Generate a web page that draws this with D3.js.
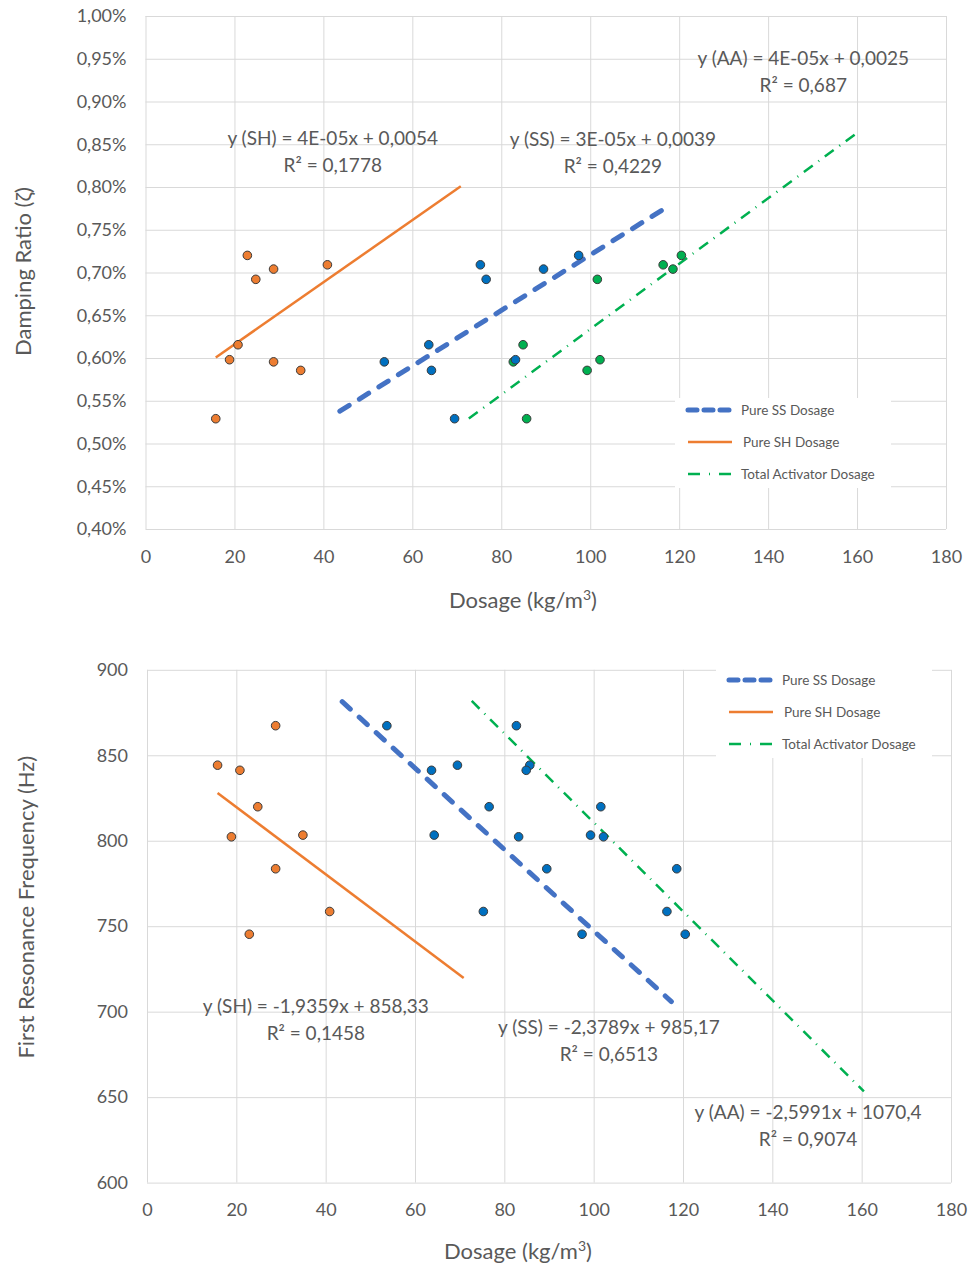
<!DOCTYPE html>
<html>
<head>
<meta charset="utf-8">
<script src="https://cdn.jsdelivr.net/npm/d3@7"></script>
<style>
  body { margin: 0; background: #fff; }
  text { font-family: Lato, "Open Sans", sans-serif; fill: #595959; }
</style>
</head>
<body>
<script>
// sample order is the same in every array (one sample = one mix)
var shDosage = [15.8, 18.9, 20.8, 22.9, 24.8, 28.8, 28.8, 34.9, 40.9];
var ssDosage = [69.5, 83.2, 63.7, 97.4, 76.6, 89.5, 53.7, 64.3, 75.3];
var aaDosage = [85.7, 102.2, 84.9, 120.5, 101.6, 118.6, 82.7, 99.3, 116.4];
var dampingRatio = [0.529, 0.598, 0.6155, 0.720, 0.692, 0.704, 0.5955, 0.5855, 0.709]; // in %
var frequency = [844.2, 802.3, 841.2, 745.3, 819.9, 783.6, 867.3, 803.3, 758.6];       // Hz

// order: SH, SS, AA
var seriesNames = ["Pure SH Dosage", "Pure SS Dosage", "Total Activator Dosage"];
var xTicks = [0, 20, 40, 60, 80, 100, 120, 140, 160, 180];
var dampTicks = [0.40, 0.45, 0.50, 0.55, 0.60, 0.65, 0.70, 0.75, 0.80, 0.85, 0.90, 0.95, 1.00];
var freqTicks = [600, 650, 700, 750, 800, 850, 900];

// trendline forecast (backward, forward) in kg/m3, order SH, SS, AA
var trendBackward = [0, 10, 10];
var trendForward = [30, 20, 40];

var dampEquations = [
  ["y (SH) = 4E-05x + 0,0054", "R² = 0,1778"],
  ["y (SS) = 3E-05x + 0,0039", "R² = 0,4229"],
  ["y (AA) = 4E-05x + 0,0025", "R² = 0,687"]
];
var freqEquations = [
  ["y (SH) = -1,9359x + 858,33", "R² = 0,1458"],
  ["y (SS) = -2,3789x + 985,17", "R² = 0,6513"],
  ["y (AA) = -2,5991x + 1070,4", "R² = 0,9074"]
];

var colors = {sh: "#ED7D31", ssLine: "#4472C4", ssDot: "#0070C0", aa: "#00B050"};

var svg = d3.select("body").append("svg").attr("width", 969).attr("height", 1270);

function fit(xs, ys) {
  var mx = d3.mean(xs), my = d3.mean(ys);
  var sxy = d3.sum(xs, function(d, i) { return (d - mx) * (ys[i] - my); });
  var sxx = d3.sum(xs, function(d) { return (d - mx) * (d - mx); });
  var b = sxy / sxx;
  return {slope: b, icpt: my - b * mx};
}

function drawChart(opt) {
  var g = svg.append("g");
  var x = d3.scaleLinear().domain([0, 180]).range([opt.left, opt.right]);
  var y = d3.scaleLinear().domain(opt.yDomain).range([opt.bottom, opt.top]);
  var w = opt.right - opt.left, h = opt.bottom - opt.top;

  // grid
  g.append("g").attr("transform", "translate(" + opt.left + ",0)")
    .call(d3.axisLeft(y).tickValues(opt.yTicks).tickSize(-w).tickFormat(""))
    .call(function(s) { s.select(".domain").remove(); s.selectAll("line").attr("stroke", "#d9d9d9"); });
  g.append("g").attr("transform", "translate(0," + opt.bottom + ")")
    .call(d3.axisBottom(x).tickValues(xTicks).tickSize(-h).tickFormat(""))
    .call(function(s) { s.select(".domain").remove(); s.selectAll("line").attr("stroke", "#d9d9d9"); });

  // tick labels
  g.append("g").attr("transform", "translate(" + opt.left + ",0)")
    .call(d3.axisLeft(y).tickValues(opt.yTicks).tickSize(0).tickPadding(19).tickFormat(opt.fmt))
    .call(function(s) { s.select(".domain").remove(); s.selectAll("text").attr("font-size", 18).attr("fill", "#595959").attr("font-family", "Lato"); });
  g.append("g").attr("transform", "translate(0," + opt.bottom + ")")
    .call(d3.axisBottom(x).tickValues(xTicks).tickSize(0).tickPadding(21))
    .call(function(s) { s.select(".domain").remove(); s.selectAll("text").attr("font-size", 18).attr("fill", "#595959").attr("font-family", "Lato"); });

  // axis titles
  var xt = g.append("text").attr("x", opt.xTitle[0]).attr("y", opt.xTitle[1])
    .attr("text-anchor", "middle").attr("font-size", 22);
  xt.append("tspan").text("Dosage (kg/m");
  xt.append("tspan").attr("font-size", 14).attr("dy", -8).text("3");
  xt.append("tspan").attr("dy", 8).text(")");
  g.append("text").attr("transform", "translate(" + opt.yTitleX + "," + (opt.top + h / 2 + opt.yTitleDy) + ") rotate(-90)")
    .attr("text-anchor", "middle").attr("font-size", 22).text(opt.yTitle);

  var series = [
    {xs: shDosage, line: colors.sh, dot: colors.sh, dash: null, width: 2.5, cap: "butt"},
    {xs: ssDosage, line: colors.ssLine, dot: colors.ssDot, dash: "11,12", width: 5, cap: "round"},
    {xs: aaDosage, line: colors.aa, dot: opt.aaDot, dash: "11,7,1,7", width: 2.5, cap: "butt"}
  ];

  // trendlines
  series.forEach(function(s, i) {
    var f = fit(s.xs, opt.ys);
    var x0 = d3.min(s.xs) - trendBackward[i], x1 = d3.max(s.xs) + trendForward[i];
    g.append("line")
      .attr("x1", x(x0)).attr("y1", y(f.icpt + f.slope * x0))
      .attr("x2", x(x1)).attr("y2", y(f.icpt + f.slope * x1))
      .attr("stroke", s.line).attr("stroke-width", s.width)
      .attr("stroke-linecap", s.cap)
      .attr("stroke-dasharray", s.dash);
  });

  // points (AA drawn first, then SS, then SH)
  [2, 1, 0].forEach(function(i) {
    var s = series[i];
    g.selectAll(null).data(s.xs).enter().append("circle")
      .attr("cx", function(d) { return x(d); })
      .attr("cy", function(d, j) { return y(opt.ys[j]); })
      .attr("r", 4.3)
      .attr("fill", s.dot).attr("stroke", "#3a3a3a").attr("stroke-width", 1);
  });

  // equations
  opt.eq.forEach(function(lines, i) {
    var p = opt.eqPos[i];
    g.append("text").attr("x", x(p[0])).attr("y", y(p[1]))
      .attr("text-anchor", "middle").attr("font-size", 19).text(lines[0]);
    g.append("text").attr("x", x(p[0])).attr("y", y(p[1]) + 27)
      .attr("text-anchor", "middle").attr("font-size", 19).text(lines[1]);
  });

  // legend: SS, SH, AA
  var lg = g.append("g").attr("transform", "translate(" + opt.legend[0] + "," + opt.legend[1] + ")");
  lg.append("rect").attr("x", 0).attr("y", 0).attr("width", 216).attr("height", 90).attr("fill", "#fff");
  [1, 0, 2].forEach(function(si, k) {
    var s = series[si];
    var yy = 12 + k * 32;
    lg.append("line").attr("x1", 13).attr("x2", s.dash ? 56 : 57).attr("y1", yy).attr("y2", yy)
      .attr("stroke", s.line).attr("stroke-width", s.width)
      .attr("stroke-linecap", s.cap)
      .attr("stroke-dasharray", si === 1 ? "9,7" : (si === 2 ? "12,9,1,9" : null));
    lg.append("text").attr("x", si === 0 ? 68 : 66).attr("y", yy + 5).attr("font-size", 13.5)
      .attr("fill", "#404040").text(seriesNames[si]);
  });
}

drawChart({
  left: 145.5, right: 946, top: 16, bottom: 529,
  yDomain: [0.40, 1.00], yTicks: dampTicks,
  fmt: function(d) { return d.toFixed(2).replace(".", ",") + "%"; },
  ys: dampingRatio, aaDot: colors.aa,
  yTitle: "Damping Ratio (ζ)", yTitleX: 31, yTitleDy: -1,
  xTitle: [523, 608],
  eq: dampEquations,
  eqPos: [[42.1, 0.849], [105.1, 0.848], [147.9, 0.943]],
  legend: [675, 398]
});

drawChart({
  left: 147, right: 951, top: 669.8, bottom: 1182.6,
  yDomain: [600, 900], yTicks: freqTicks,
  fmt: function(d) { return d; },
  ys: frequency, aaDot: colors.ssDot,
  yTitle: "First Resonance Frequency (Hz)", yTitleX: 34, yTitleDy: -19,
  xTitle: [518, 1259],
  eq: freqEquations,
  eqPos: [[37.8, 699], [103.4, 687], [148.0, 637]],
  legend: [716, 668]
});
</script>
</body>
</html>
